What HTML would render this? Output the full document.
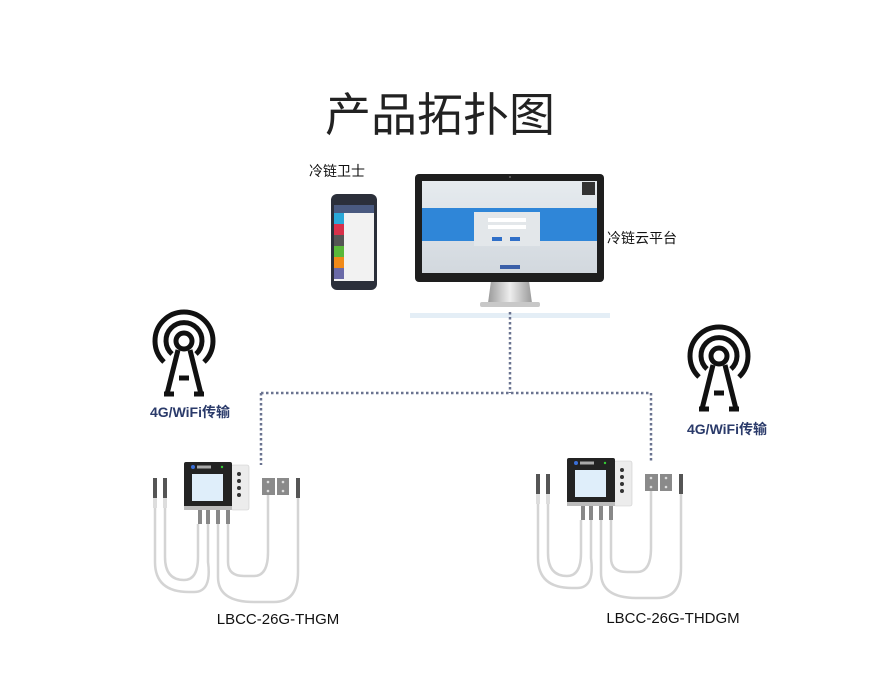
<!DOCTYPE html><html><head><meta charset="utf-8"><style>
body{margin:0;background:#fff;}
svg{display:block}
text{font-family:"Liberation Sans","Noto Sans CJK SC",sans-serif}
</style></head><body>
<svg width="880" height="677" viewBox="0 0 880 677" xmlns="http://www.w3.org/2000/svg">
<defs>
<linearGradient id="scr" x1="0" y1="0" x2="0" y2="1"><stop offset="0" stop-color="#e6ebef"/><stop offset="1" stop-color="#d2d8de"/></linearGradient>
<linearGradient id="stand" x1="0" y1="0" x2="1" y2="0"><stop offset="0" stop-color="#9a9a9a"/><stop offset="0.5" stop-color="#eeeeee"/><stop offset="1" stop-color="#9a9a9a"/></linearGradient>
<g id="tower" fill="none" stroke="#111" stroke-width="5">
<circle cx="0" cy="0" r="8"/>
<path d="M-12,13 A18,18 0 1 1 12,13"/>
<path d="M-20,21 A29,29 0 1 1 20,21"/>
<path d="M-6,9 L-17,53 M6,9 L17,53 M-20,53 L-10,53 M10,53 L20,53 M-5,37 L5,37"/>
</g>
<g id="dev">
<g fill="none" stroke="#d4d4d4" stroke-width="2.5">
<path d="M-29,40 L-29,100 Q-29,130 5,130 L10,130 Q28,130 24,100 L24,62"/>
<path d="M-19,40 L-19,95 Q-19,118 0,118 Q14,118 14,95 L14,62"/>
<path d="M34,62 L34,115 Q34,140 70,140 L90,140 Q114,140 114,110 L114,32"/>
<path d="M44,62 L44,100 Q44,114 60,114 L70,114 Q84,114 84,90 L84,33"/>
</g>
<rect x="-31" y="16" width="4" height="20" fill="#555"/><rect x="-21" y="16" width="4" height="20" fill="#555"/>
<rect x="-31" y="36" width="4" height="10" fill="#ddd"/><rect x="-21" y="36" width="4" height="10" fill="#ddd"/>
<rect x="112" y="16" width="4" height="20" fill="#555"/>
<rect x="78" y="16" width="13" height="17" fill="#8a8a8a"/><rect x="93" y="16" width="12" height="17" fill="#8a8a8a"/>
<circle cx="84" cy="20" r="1.3" fill="#ddd"/><circle cx="84" cy="29" r="1.3" fill="#ddd"/><circle cx="99" cy="20" r="1.3" fill="#ddd"/><circle cx="99" cy="29" r="1.3" fill="#ddd"/>
<rect x="47" y="3" width="18" height="45" rx="2" fill="#ececec" stroke="#ccc" stroke-width="0.6"/>
<circle cx="55" cy="12" r="2" fill="#333"/><circle cx="55" cy="19" r="2" fill="#333"/><circle cx="55" cy="26" r="2" fill="#333"/><circle cx="55" cy="33" r="2" fill="#333"/>
<rect x="0" y="0" width="48" height="47" rx="2" fill="#232323"/>
<rect x="0" y="44" width="48" height="4" fill="#bbb"/>
<rect x="8" y="12" width="31" height="27" fill="#dfeefa"/>
<circle cx="9" cy="5" r="2" fill="#3a6fd8"/><rect x="13" y="3.5" width="14" height="3" fill="#aaa"/><circle cx="38" cy="5" r="1.2" fill="#3c3"/>
<g fill="#888"><rect x="14" y="48" width="4" height="14"/><rect x="22" y="48" width="4" height="14"/><rect x="32" y="48" width="4" height="14"/><rect x="42" y="48" width="4" height="14"/></g>
</g>
</defs>

<text x="440" y="131" font-size="46" text-anchor="middle" fill="#222">产品拓扑图</text>

<text x="309" y="176" font-size="14" fill="#111">冷链卫士</text>
<text x="607" y="243" font-size="14" fill="#111">冷链云平台</text>

<!-- phone -->
<rect x="331" y="194" width="46" height="96" rx="6" fill="#2b2f3a"/>
<rect x="334" y="205" width="40" height="76" fill="#f2f2f2"/>
<rect x="334" y="205" width="40" height="8" fill="#4a5a80"/>
<rect x="334" y="213" width="10" height="11" fill="#2aa8d8"/>
<rect x="334" y="224" width="10" height="11" fill="#d8304a"/>
<rect x="334" y="235" width="10" height="11" fill="#555"/>
<rect x="334" y="246" width="10" height="11" fill="#5ab83a"/>
<rect x="334" y="257" width="10" height="11" fill="#f08a1a"/>
<rect x="334" y="268" width="10" height="11" fill="#6a6aa8"/>

<!-- monitor -->
<rect x="410" y="313" width="200" height="5" fill="#e4eef6"/>
<path d="M491,281 L529,281 L532,303 L488,303 Z" fill="url(#stand)"/>
<rect x="480" y="302" width="60" height="5" rx="2" fill="#c8c8c8"/>
<rect x="415" y="174" width="189" height="108" rx="4" fill="#1e1e1e"/>
<rect x="422" y="181" width="175" height="92" fill="url(#scr)"/>
<rect x="422" y="208" width="175" height="33" fill="#2f86d8"/>
<rect x="474" y="212" width="66" height="34" fill="#e3e7ea"/>
<rect x="488" y="218" width="38" height="4" fill="#fff"/><rect x="488" y="225" width="38" height="4" fill="#fff"/>
<rect x="492" y="237" width="10" height="4" fill="#2f6fc8"/><rect x="510" y="237" width="10" height="4" fill="#2f6fc8"/>
<rect x="582" y="182" width="13" height="13" fill="#333"/>
<rect x="500" y="265" width="20" height="4" fill="#3a5fa8"/>
<circle cx="510" cy="177" r="1" fill="#666"/>

<!-- dotted lines -->
<g stroke="#6a7390" stroke-width="2.5" stroke-dasharray="2.5,2.5" fill="none">
<path d="M510,312 L510,393"/>
<path d="M261,393 L651,393"/>
<path d="M261,393 L261,465"/>
<path d="M651,393 L651,461"/>
</g>

<use href="#tower" transform="translate(184,341)"/>
<use href="#tower" transform="translate(719,356)"/>
<text x="190" y="417" font-size="14" font-weight="bold" text-anchor="middle" fill="#2a3a6a">4G/WiFi传输</text>
<text x="727" y="434" font-size="14" font-weight="bold" text-anchor="middle" fill="#2a3a6a">4G/WiFi传输</text>

<use href="#dev" transform="translate(184,462)"/>
<use href="#dev" transform="translate(567,458)"/>

<text x="278" y="624" font-size="15" text-anchor="middle" fill="#111">LBCC-26G-THGM</text>
<text x="673" y="623" font-size="15" text-anchor="middle" fill="#111">LBCC-26G-THDGM</text>
</svg>
</body></html>
